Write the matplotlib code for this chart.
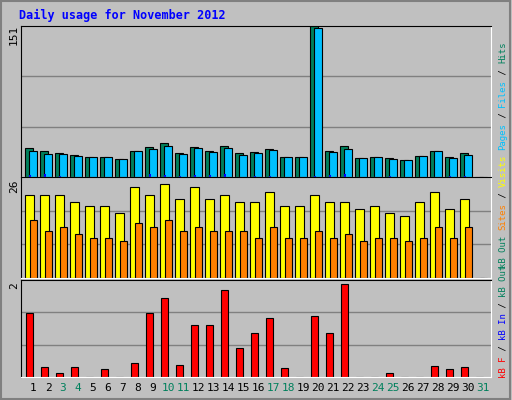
import matplotlib
matplotlib.use('Agg')
import matplotlib.pyplot as plt
import numpy as np

days = list(range(1, 32))
weekend = [3, 4, 10, 11, 17, 18, 24, 25, 31]
hits = [29, 26, 24, 22, 20, 20, 18, 26, 30, 34, 24, 30, 26, 31, 24, 25, 28, 20, 20, 151,
        26, 31, 19, 20, 19, 17, 21, 26, 20, 24, 0]
files = [26, 23, 23, 21, 20, 20, 18, 26, 28, 31, 23, 29, 25, 29, 22, 24, 27, 20, 20, 149,
         25, 28, 19, 20, 18, 17, 21, 26, 19, 22, 0]
pages = [2, 3, 1, 0, 0, 0, 0, 0, 3, 2, 1, 2, 2, 3, 0, 1, 1, 0, 0, 1,
         2, 3, 0, 0, 1, 0, 0, 0, 1, 1, 0]
visits = [21.4, 21.4, 21.4, 19.6, 18.6, 18.6, 16.7, 23.3, 21.4, 24.1, 20.4, 23.3, 20.4, 21.4, 19.6,
          19.6, 22.2, 18.6, 18.6, 21.4, 19.6, 19.6, 17.8, 18.6, 16.7, 15.9, 19.6, 22.2, 17.8, 20.4, 0]
sites = [14.9, 12.0, 13.0, 11.2, 10.2, 10.2, 9.4, 14.1, 13.0, 14.9, 12.0, 13.0, 12.0, 12.0, 12.0,
         10.2, 13.0, 10.2, 10.2, 12.0, 10.2, 11.2, 9.4, 10.2, 10.2, 9.4, 10.2, 13.0, 10.2, 13.0, 0]
kbytes = [1.31, 0.20, 0.08, 0.20, 0, 0.16, 0, 0.29, 1.31, 1.62, 0.24, 1.08, 1.08, 1.79, 0.60,
          0.91, 1.22, 0.18, 0, 1.26, 0.91, 1.91, 0, 0, 0.08, 0, 0, 0.22, 0.16, 0.20, 0]

W, H = 512, 400
fig = plt.figure(figsize=(W / 100, H / 100), dpi=100, facecolor='#C0C0C0')
mono = 'DejaVu Sans Mono'

def ax_at(x0, y0, x1, y1):
    return fig.add_axes([x0 / W, 1 - y1 / H, (x1 - x0) / W, (y1 - y0) / H])

x = np.array(days, dtype=float)
ec = dict(edgecolor='black', linewidth=0.8)

def setup(ax, top):
    ax.set_facecolor('#C0C0C0')
    ax.set_xlim(0.2, 31.53)
    ax.set_ylim(0, top)
    ax.set_xticks([])
    ax.set_yticks([])
    for g in (top / 3, 2 * top / 3):
        ax.axhline(g, color='#808080', linewidth=1, zorder=0)
    for s in ax.spines.values():
        s.set_color('black')
    ax.spines['right'].set_color('white')
    ax.spines['bottom'].set_color('white')

ax1 = ax_at(21, 26, 491, 177)
setup(ax1, 151)
ax1.bar(x - 0.53, hits, width=0.5, align='edge', color='#00805C', **ec)
ax1.bar(x - 0.27, files, width=0.53, align='edge', color='#00C0FF', **ec)
ax1.bar(x - 0.27, pages, width=0.15, align='edge', color='#0000FF', linewidth=0)

ax2 = ax_at(21, 177, 491, 278)
setup(ax2, 26)
ax2.bar(x - 0.53, visits, width=0.58, align='edge', color='#FFFF00', **ec)
ax2.bar(x - 0.22, sites, width=0.5, align='edge', color='#FF8000', **ec)

ax3 = ax_at(21, 280, 491, 377)
setup(ax3, 2)
ax3.bar(x - 0.48, kbytes, width=0.47, align='edge', color='#FF0000', **ec)

for d in days:
    fig.text((33 + 15 * (d - 1)) / W, 1 - 388 / H, str(d), ha='center', va='center',
             fontsize=8, family=mono, color='#00805C' if d in weekend else 'black')

fig.text(19 / W, 1 - 15 / H, 'Daily usage for November 2012', fontsize=8.5, family=mono,
         weight='bold', color='#0000FF', va='center')
for yy, lab in ((35, '151'), (186, '26'), (286, '2')):
    fig.text(14 / W, 1 - yy / H, lab, rotation=90, fontsize=8, family=mono, ha='center', va='center')

FS = 6.5
CW = 0.6 * FS * 100 / 72

def side(y_bottom, parts):
    y = y_bottom
    for txt, col in parts:
        fig.text(503 / W, 1 - y / H, txt, rotation=90, fontsize=FS, family=mono, color=col,
                 ha='center', va='bottom')
        y -= CW * len(txt)

side(150, [('Pages', '#00C0FF'), (' / ', 'black'), ('Files', '#00C0FF'), (' / ', 'black'), ('Hits', '#00805C')])
side(268, [('kB Out', '#00805C'), (' ', 'black'), ('Sites', '#FF8000'), (' / ', 'black'), ('Visits', '#FFFF00')])
side(378, [('kB F', '#FF0000'), (' / ', 'black'), ('kB In', '#0000FF'), (' / ', 'black'), ('kB Out', '#00805C')])

fig.patches.append(plt.Rectangle((0.002, 0.003), 0.995, 0.994, transform=fig.transFigure,
                                 fill=False, edgecolor='#808080', linewidth=1.5))
fig.savefig('out.png', dpi=100, facecolor=fig.get_facecolor())
